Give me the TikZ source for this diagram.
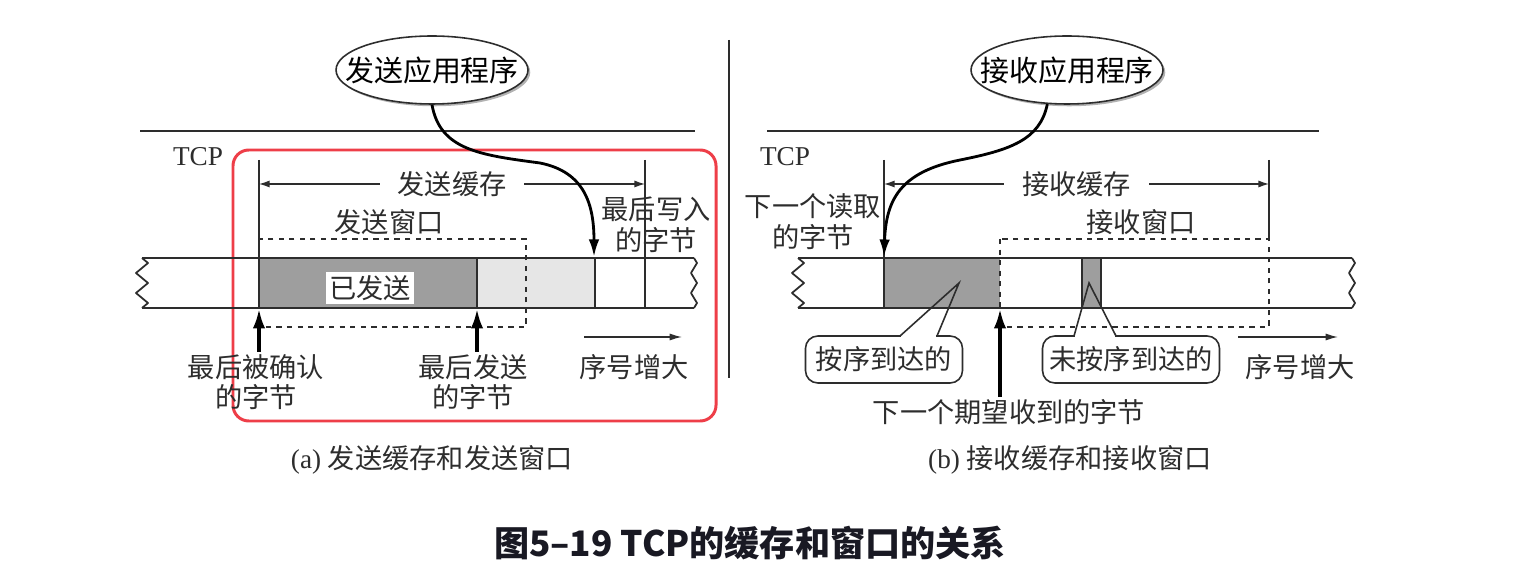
\documentclass[tikz,border=0pt]{standalone}
\usepackage{fontspec}
\setmainfont{Liberation Serif}
\newfontfamily\cjk{Noto Sans CJK SC}
\usepackage{tikz}
\usetikzlibrary{arrows.meta,calc,positioning,shapes.geometric,shadows}
\definecolor{boxred}{RGB}{238,62,72}
\definecolor{darkfill}{RGB}{158,158,158}
\definecolor{lightfill}{RGB}{230,230,230}
\definecolor{ink}{RGB}{45,45,45}
\tikzset{
  app/.style={ellipse,draw=ink,line width=0.9pt,fill=white,minimum width=3.84cm,minimum height=1.36cm,
    inner xsep=-0.5cm,inner ysep=0.2cm,font=\cjk\fontsize{16.5}{19}\selectfont,
    drop shadow={shadow xshift=1.3pt,shadow yshift=-1.3pt,fill=black,opacity=0.3}},
  lbl/.style={font=\cjk\fontsize{15.5}{17.5}\selectfont,align=center,inner sep=1pt,text=ink},
  band/.style={draw=ink,line width=1pt,line join=round},
  tick/.style={draw=ink,line width=0.9pt},
  win/.style={draw=ink,dashed,line width=0.8pt},
  span/.style={draw=ink,line width=0.7pt,{Latex[length=6pt,width=4pt]}-{Latex[length=6pt,width=4pt]}},
  seqarr/.style={draw=ink,line width=0.8pt,-{Latex[length=7pt,width=4pt]}},
  uparr/.style={draw=black,line width=1.8pt,-{Latex[length=11pt,width=7pt]}},
  flow/.style={draw=black,line width=1.6pt,-{Latex[length=10pt,width=6pt]}},
  callout/.style={draw=ink,line width=0.9pt,rounded corners=7pt,minimum height=0.94cm,
    font=\cjk\fontsize{15.5}{17.5}\selectfont,text=ink},
  pointer/.style={draw=ink,line width=0.9pt,line join=miter}
}
\newcommand{\zigend}[2]{%
  \draw[band] (#1,258) -- ++(#2,5) -- ++(-2*#2,10) -- ++(2*#2,10) -- ++(-2*#2,10)
    -- ++(2*#2,10) -- ++(-#2,5);
}

\begin{document}
\begin{tikzpicture}[x=0.02cm,y=-0.02cm]
\useasboundingbox (0,0) rectangle (1524,570);
\fill[white] (0,0) rectangle (1524,570);

% (a) sending side
\draw[boxred,line width=1.7pt,rounded corners=9pt] (233,150) rectangle (716,421);
\fill[darkfill] (259,258) rectangle (477,308);
\fill[lightfill] (477,258) rectangle (595,308);
\draw[band] (142,258) -- (694,258);
\draw[band] (142,308) -- (694,308);
\zigend{142}{6}
\zigend{694}{3}
\draw[tick] (140,131) -- (695,131);
\draw[tick] (259,160) -- (259,308);
\draw[tick] (645,160) -- (645,308);
\draw[tick] (477,258) -- (477,308);
\draw[tick] (595,258) -- (595,308);
\draw[win] (259,239) rectangle (526,327);

\node[app] (sapp) at (432,70) {发送应用程序};
\node[font=\fontsize{15.5}{17.5}\selectfont,text=ink] (stcp) at (198,157) {TCP};
\coordinate (sbl) at (259,184);
\coordinate (sbr) at (645,184);
\draw[span] (sbl) -- node[lbl,fill=white,inner xsep=10pt] (sbuf) {发送缓存} (sbr);
\node[lbl] (swin) at (389,222) {发送窗口};
\node[lbl] (swr) at (656,225) {最后写入\\的字节};
\node[lbl,fill=white,inner sep=2pt] (ssent) at (370,288) {已发送};

\coordinate (sa) at (259,309);
\coordinate (sl) at (477,309);
\node[lbl] (sack) at (256,382) {最后被确认\\的字节};
\node[lbl] (slast) at (473,382) {最后发送\\的字节};
\draw[uparr] (sack.north -| sa) -- (sa);
\draw[uparr] (slast.north -| sl) -- (sl);

\coordinate (ss0) at (584,337);
\coordinate (ss1) at (682,337);
\draw[seqarr] (ss0) -- (ss1);
\node[lbl] (sseq) at (634,367) {序号增大};

\coordinate (swp) at (594,257);
\draw[flow] (sapp.south) .. controls (440,150) and (480,155) .. (540,163)
  .. controls (585,172) and (594,205) .. (swp);

\node[font=\fontsize{15.5}{17.5}\selectfont,text=ink] (capa) at (432,460) {(a) {\cjk 发送缓存和发送窗口}};

% divider
\draw[tick] (729,40) -- (729,378);

% (b) receiving side
\fill[darkfill] (884,258) rectangle (1000,308);
\fill[darkfill] (1082,258) rectangle (1101,308);
\draw[band] (798,258) -- (1352,258);
\draw[band] (798,308) -- (1352,308);
\zigend{798}{6}
\zigend{1352}{3}
\draw[tick] (767,131) -- (1319,131);
\draw[tick] (884,160) -- (884,308);
\draw[tick] (1269,160) -- (1269,239);
\draw[tick] (1082,258) -- (1082,308);
\draw[tick] (1101,258) -- (1101,308);
\draw[win] (1000,239) rectangle (1269,327);

\node[app] (rapp) at (1067,70) {接收应用程序};
\node[font=\fontsize{15.5}{17.5}\selectfont,text=ink] (rtcp) at (785,157) {TCP};
\coordinate (rbl) at (884,184);
\coordinate (rbr) at (1269,184);
\draw[span] (rbl) -- node[lbl,fill=white,inner xsep=10pt] (rbuf) {接收缓存} (rbr);
\node[lbl] (rwin) at (1141,222) {接收窗口};
\node[lbl] (rread) at (813,222) {下一个读取\\的字节};

\coordinate (rrp) at (884,257);
\draw[flow] (rapp.240) .. controls (1040,140) and (1010,150) .. (960,160)
  .. controls (900,172) and (886,200) .. (rrp);

\coordinate (rw) at (1000,309);
\node[lbl] (nexp) at (1009,412) {下一个期望收到的字节};
\draw[uparr] (nexp.north -| rw) -- (rw);

\coordinate (rs0) at (1238,337);
\coordinate (rs1) at (1338,337);
\draw[seqarr] (rs0) -- (rs1);
\node[lbl] (rseq) at (1300,367) {序号增大};

\node[callout,minimum width=3.14cm] (ins) at (884,359.5) {按序到达的};
\node[callout,minimum width=3.54cm] (outs) at (1131,359.5) {未按序到达的};
\coordinate (inst) at (959,283);
\coordinate (outt) at (1089,283);
\draw[white,line width=2pt] (901,336) -- (936,336);
\draw[pointer] (900,336) -- (inst) -- (937,336);
\draw[white,line width=2pt] (1075,336) -- (1115,336);
\draw[pointer] (1074,336) -- (outt) -- (1116,336);

\node[font=\fontsize{15.5}{17.5}\selectfont,text=ink] (capb) at (1070,460) {(b) {\cjk 接收缓存和接收窗口}};

\node[font=\cjk\bfseries\fontsize{20}{24}\selectfont,text={rgb,255:red,25;green,25;blue,35}] (title) at (750,543) {图5–19 TCP的缓存和窗口的关系};
\end{tikzpicture}
\end{document}
